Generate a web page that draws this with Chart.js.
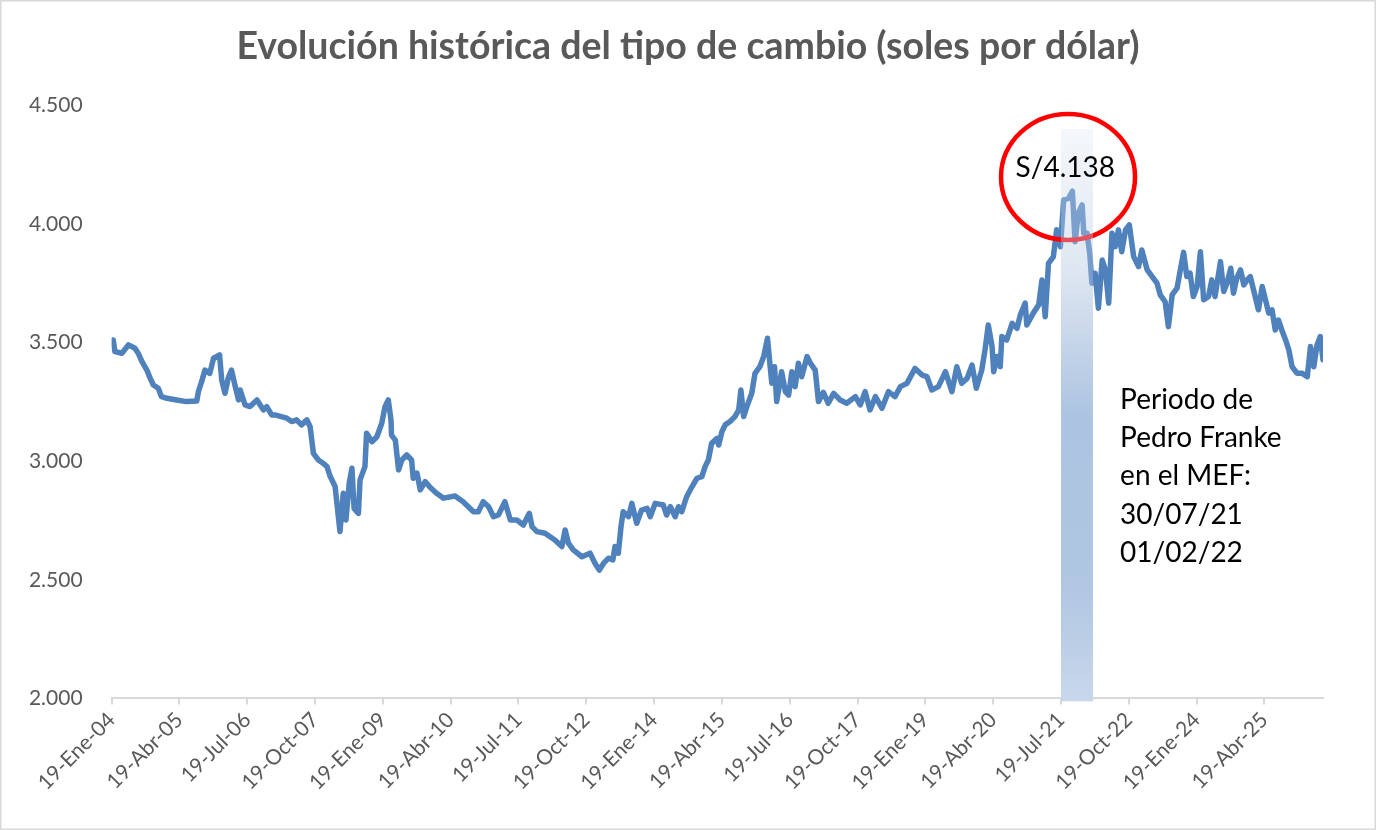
<!DOCTYPE html>
<html>
<head>
<meta charset="utf-8">
<script src="https://cdn.jsdelivr.net/npm/chart.js@4.4.1/dist/chart.umd.min.js"></script>
<style>
  html, body { margin: 0; padding: 0; background: #ffffff; }
  #wrap { width: 1376px; height: 830px; position: relative; }
  canvas { display: block; }
</style>
</head>
<body>
<div id="wrap"><canvas id="c" width="1376" height="830"></canvas></div>
<script>
// ---------------- DATA ----------------
const titulo = 'Evolución histórica del tipo de cambio (soles por dólar)';

// X tick labels (one every 15 months, starting 19-Ene-04)
const etiquetasX = ['19-Ene-04','19-Abr-05','19-Jul-06','19-Oct-07','19-Ene-09','19-Abr-10',
  '19-Jul-11','19-Oct-12','19-Ene-14','19-Abr-15','19-Jul-16','19-Oct-17','19-Ene-19',
  '19-Abr-20','19-Jul-21','19-Oct-22','19-Ene-24','19-Abr-25'];
const inicioTicks = 2004.05;   // decimal year of 19-Ene-04
const pasoTicks = 1.25;        // 15 months
const fechaMin = 2004.05;
const fechaMax = 2026.38;

// Y axis ticks
const yMin = 2.0, yMax = 4.5, yPaso = 0.5;

// Dates (decimal years)
const fechas = [
  2004.06,2004.08,2004.11,2004.24,2004.36,2004.48,2004.54,2004.61,2004.70,2004.76,
  2004.82,2004.91,2004.97,2005.07,2005.25,2005.43,2005.62,2005.65,2005.71,2005.77,
  2005.86,2005.93,2006.04,2006.08,2006.14,2006.20,2006.26,2006.33,2006.39,2006.42,
  2006.51,2006.60,2006.73,2006.85,2006.91,2007.00,2007.06,2007.28,2007.37,2007.46,
  2007.55,2007.65,2007.71,2007.77,2007.86,2007.95,2008.02,2008.08,2008.17,2008.21,
  2008.26,2008.32,2008.37,2008.43,2008.48,2008.52,2008.60,2008.63,2008.72,2008.75,
  2008.85,2008.94,2009.03,2009.09,2009.15,2009.20,2009.21,2009.28,2009.34,2009.40,
  2009.49,2009.58,2009.61,2009.68,2009.74,2009.83,2009.92,2010.04,2010.17,2010.38,
  2010.53,2010.72,2010.81,2010.90,2011.00,2011.09,2011.18,2011.30,2011.40,2011.52,
  2011.64,2011.75,2011.80,2011.89,2012.04,2012.22,2012.35,2012.41,2012.47,2012.56,
  2012.72,2012.87,2012.96,2013.04,2013.12,2013.21,2013.29,2013.33,2013.39,2013.44,
  2013.48,2013.58,2013.64,2013.73,2013.82,2013.92,2013.98,2014.07,2014.22,2014.28,
  2014.35,2014.44,2014.50,2014.56,2014.65,2014.75,2014.84,2014.93,2014.99,2015.05,
  2015.11,2015.21,2015.24,2015.30,2015.36,2015.45,2015.54,2015.61,2015.65,2015.70,
  2015.76,2015.85,2015.91,2016.00,2016.07,2016.14,2016.19,2016.22,2016.27,2016.31,
  2016.40,2016.47,2016.53,2016.59,2016.65,2016.71,2016.77,2016.87,2016.93,2017.02,
  2017.08,2017.17,2017.26,2017.36,2017.48,2017.60,2017.76,2017.85,2017.94,2018.03,
  2018.13,2018.25,2018.37,2018.49,2018.59,2018.71,2018.86,2018.99,2019.08,2019.17,
  2019.29,2019.42,2019.54,2019.63,2019.72,2019.82,2019.91,2019.99,2020.09,2020.15,
  2020.21,2020.28,2020.31,2020.37,2020.43,2020.46,2020.55,2020.65,2020.74,2020.80,
  2020.89,2020.92,2021.04,2021.14,2021.20,2021.26,2021.32,2021.41,2021.47,2021.54,
  2021.60,2021.69,2021.76,2021.81,2021.87,2021.94,2021.97,2022.03,2022.08,2022.12,
  2022.18,2022.24,2022.31,2022.37,2022.43,2022.49,2022.55,2022.61,2022.67,2022.74,
  2022.81,2022.89,2022.98,2023.04,2023.14,2023.23,2023.32,2023.38,2023.47,2023.53,
  2023.60,2023.69,2023.75,2023.81,2023.87,2023.93,2023.99,2024.06,2024.12,2024.18,
  2024.27,2024.33,2024.39,2024.49,2024.55,2024.61,2024.68,2024.73,2024.79,2024.86,
  2024.92,2024.98,2025.04,2025.10,2025.19,2025.26,2025.32,2025.38,2025.44,2025.50,
  2025.56,2025.62,2025.69,2025.75,2025.81,2025.90,2025.99,2026.09,2026.15,2026.21,
  2026.27,2026.33,2026.38
];

// Exchange rate (soles per dollar)
const tipoCambio = [
  3.490,3.511,3.462,3.455,3.490,3.476,3.455,3.420,3.384,3.350,
  3.321,3.307,3.272,3.265,3.258,3.251,3.254,3.293,3.335,3.384,
  3.370,3.434,3.448,3.342,3.286,3.350,3.384,3.314,3.258,3.300,
  3.237,3.230,3.258,3.216,3.230,3.195,3.195,3.181,3.167,3.174,
  3.153,3.174,3.145,3.033,3.005,2.991,2.977,2.935,2.893,2.808,
  2.703,2.865,2.752,2.907,2.970,2.801,2.780,2.921,2.977,3.118,
  3.082,3.103,3.160,3.230,3.258,3.174,3.110,3.089,2.963,3.005,
  3.026,3.005,2.928,2.949,2.879,2.914,2.890,2.865,2.844,2.853,
  2.829,2.787,2.787,2.829,2.808,2.766,2.773,2.829,2.752,2.752,
  2.731,2.780,2.724,2.703,2.696,2.668,2.640,2.710,2.654,2.626,
  2.597,2.612,2.570,2.541,2.570,2.591,2.584,2.640,2.612,2.724,
  2.787,2.766,2.822,2.738,2.794,2.801,2.766,2.822,2.815,2.773,
  2.808,2.766,2.808,2.787,2.850,2.893,2.928,2.935,2.977,3.005,
  3.075,3.096,3.068,3.124,3.153,3.167,3.188,3.216,3.300,3.188,
  3.230,3.286,3.370,3.398,3.441,3.518,3.398,3.328,3.398,3.251,
  3.377,3.293,3.279,3.377,3.314,3.413,3.356,3.441,3.413,3.384,
  3.251,3.290,3.244,3.286,3.258,3.244,3.272,3.237,3.293,3.216,
  3.272,3.223,3.293,3.272,3.314,3.328,3.391,3.363,3.356,3.300,
  3.314,3.377,3.293,3.398,3.328,3.349,3.405,3.307,3.384,3.469,
  3.574,3.483,3.377,3.441,3.398,3.525,3.511,3.581,3.560,3.616,
  3.666,3.574,3.624,3.659,3.764,3.609,3.834,3.862,3.975,3.904,
  4.101,4.108,4.138,3.925,4.045,4.080,3.961,3.961,3.877,3.750,
  3.792,3.645,3.848,3.806,3.666,3.961,3.904,3.975,3.883,3.975,
  3.996,3.862,3.820,3.890,3.806,3.778,3.750,3.701,3.672,3.567,
  3.701,3.729,3.806,3.880,3.778,3.792,3.694,3.736,3.883,3.680,
  3.694,3.764,3.694,3.841,3.715,3.750,3.813,3.708,3.771,3.806,
  3.743,3.764,3.778,3.722,3.638,3.736,3.680,3.624,3.638,3.553,
  3.595,3.553,3.511,3.469,3.398,3.371,3.371,3.356,3.483,3.398,
  3.490,3.525,3.427
];

// Annotations (in data units)
const periodoInicio = 2021.55;   // 30/07/21 band start
const periodoFin = 2022.14;      // 01/02/22 band end
const periodoTope = 4.40;
const maximoTexto = 'S/4.138';
const maximoFecha = 2021.63, maximoValor = 4.236;
const circuloFecha = 2021.68, circuloValor = 4.198;
const notaLineas = ['Periodo de', 'Pedro Franke', 'en el MEF:', '30/07/21', '01/02/22'];
const notaFecha = 2022.64, notaValor = 3.258;

// ---------------- CHART ----------------
const puntos = fechas.map((f, i) => ({ x: f, y: tipoCambio[i] }));

const fondoPlugin = {
  id: 'fondo',
  beforeDraw(chart) {
    const ctx = chart.ctx;
    ctx.save();
    ctx.fillStyle = '#ffffff';
    ctx.fillRect(0, 0, chart.width, chart.height);
    ctx.strokeStyle = '#d9d9d9';
    ctx.lineWidth = 1.5;
    ctx.strokeRect(0.75, 0.75, chart.width - 1.5, chart.height - 1.5);
    // title, centred on the whole chart
    ctx.fillStyle = '#595959';
    ctx.font = 'bold 37.5px Lato';
    ctx.textAlign = 'center';
    ctx.textBaseline = 'middle';
    ctx.fillText(titulo, chart.width / 2, 47);
    ctx.restore();
  }
};

const anotacionesPlugin = {
  id: 'anotaciones',
  afterDraw(chart) {
    const ctx = chart.ctx;
    const xs = chart.scales.x, ys = chart.scales.y;
    ctx.save();
    // red circle
    const cx = xs.getPixelForValue(circuloFecha), cy = ys.getPixelForValue(circuloValor);
    ctx.beginPath();
    ctx.ellipse(cx, cy, 67, 63, 0, 0, Math.PI * 2);
    ctx.strokeStyle = '#ff0000';
    ctx.lineWidth = 4.5;
    ctx.stroke();
    // shaded band (over line)
    const bx0 = xs.getPixelForValue(periodoInicio), bx1 = xs.getPixelForValue(periodoFin);
    const by0 = ys.getPixelForValue(periodoTope), by1 = chart.chartArea.bottom + 3;
    const g = ctx.createLinearGradient(0, by0, 0, by1);
    g.addColorStop(0, 'rgba(224,232,244,0.35)');
    g.addColorStop(0.25, 'rgba(175,195,222,0.42)');
    g.addColorStop(0.5, 'rgba(172,196,225,1)');
    g.addColorStop(0.8, 'rgba(176,198,226,1)');
    g.addColorStop(1, 'rgba(200,215,235,1)');
    ctx.fillStyle = g;
    ctx.fillRect(bx0, by0, bx1 - bx0, by1 - by0);
    // value text
    ctx.fillStyle = '#000000';
    ctx.font = '28px Lato';
    ctx.textAlign = 'center';
    ctx.textBaseline = 'middle';
    ctx.fillText(maximoTexto, xs.getPixelForValue(maximoFecha), ys.getPixelForValue(maximoValor));
    // note text
    ctx.textAlign = 'left';
    const nx = xs.getPixelForValue(notaFecha), ny = ys.getPixelForValue(notaValor);
    notaLineas.forEach((t, i) => ctx.fillText(t, nx, ny + i * 38.2));
    ctx.restore();
  }
};

new Chart(document.getElementById('c'), {
  type: 'line',
  data: {
    datasets: [{
      label: 'Tipo de cambio',
      data: puntos,
      borderColor: '#4f81bd',
      borderWidth: 5.5,
      pointRadius: 0,
      tension: 0,
      borderJoinStyle: 'round',
      borderCapStyle: 'round',
      fill: false
    }]
  },
  options: {
    responsive: false,
    animation: false,
    parsing: false,
    layout: { padding: { top: 105.3, left: 0, right: 53, bottom: 0 } },
    plugins: {
      legend: { display: false },
      tooltip: { enabled: false },
      title: { display: false }
    },
    scales: {
      x: {
        type: 'linear',
        min: fechaMin,
        max: fechaMax,
        afterBuildTicks(scale) {
          scale.ticks = etiquetasX.map((l, i) => ({ value: inicioTicks + i * pasoTicks }));
        },
        afterFit(scale) { scale.height = 131.6; },
        border: { display: true, color: '#d9d9d9', width: 2 },
        grid: { display: true, drawOnChartArea: false, drawTicks: true, tickLength: 6, color: '#d9d9d9', lineWidth: 2 },
        ticks: {
          autoSkip: false,
          minRotation: 45,
          maxRotation: 45,
          padding: 3,
          color: '#595959',
          font: { family: 'Lato', size: 21 },
          callback(v, i) { return etiquetasX[i]; }
        }
      },
      y: {
        min: yMin,
        max: yMax,
        afterFit(scale) { scale.width = 111.6; },
        border: { display: false },
        grid: { display: false, drawTicks: false },
        ticks: {
          stepSize: yPaso,
          padding: 29,
          color: '#595959',
          font: { family: 'Lato', size: 21 },
          callback(v) { return v.toFixed(3); }
        }
      }
    }
  },
  plugins: [fondoPlugin, anotacionesPlugin]
});
</script>
</body>
</html>
